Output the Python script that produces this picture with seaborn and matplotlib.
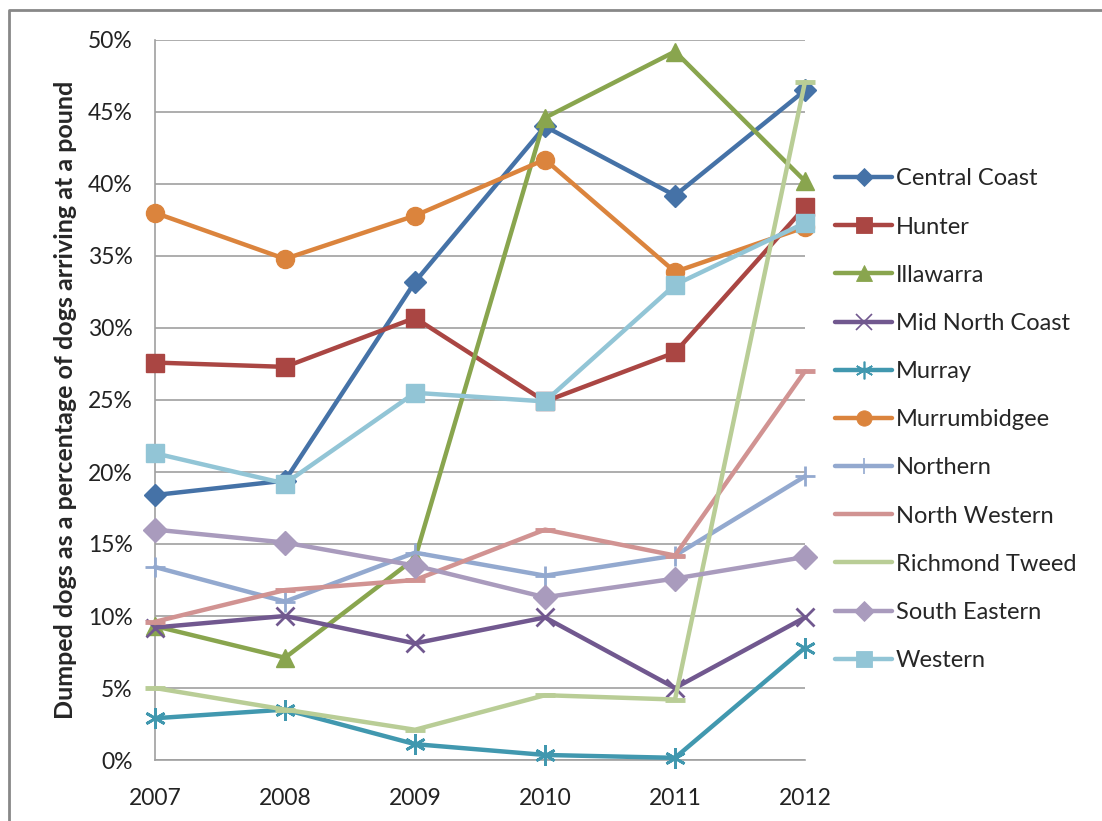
import matplotlib
matplotlib.use("Agg")
import matplotlib.pyplot as plt
import matplotlib.ticker as mticker
from matplotlib.lines import Line2D
import pandas as pd
import seaborn as sns

# values (percent)
years = [2007, 2008, 2009, 2010, 2011, 2012]
regions = ["Central Coast", "Hunter", "Illawarra", "Mid North Coast", "Murray",
           "Murrumbidgee", "Northern", "North Western", "Richmond Tweed",
           "South Eastern", "Western"]
central_coast = [18.4, 19.4, 33.2, 44.0, 39.2, 46.5]
hunter = [27.6, 27.3, 30.7, 24.9, 28.3, 38.4]
illawarra = [9.3, 7.1, 14.0, 44.6, 49.2, 40.2]
mid_north_coast = [9.2, 10.0, 8.1, 9.9, 5.0, 9.9]
murray = [2.9, 3.5, 1.1, 0.35, 0.15, 7.8]
murrumbidgee = [38.0, 34.8, 37.8, 41.7, 33.9, 37.0]
northern = [13.4, 11.0, 14.4, 12.8, 14.2, 19.7]
north_western = [9.6, 11.8, 12.5, 16.0, 14.2, 27.0]
richmond_tweed = [5.0, 3.5, 2.1, 4.5, 4.2, 47.1]
south_eastern = [16.0, 15.1, 13.5, 11.3, 12.6, 14.1]
western = [21.3, 19.2, 25.5, 24.9, 33.0, 37.3]

series = [central_coast, hunter, illawarra, mid_north_coast, murray, murrumbidgee,
          northern, north_western, richmond_tweed, south_eastern, western]

colors = ["#4572A7", "#AA4643", "#89A54E", "#71588F", "#4198AF", "#DB843D",
          "#93A9CF", "#D19392", "#B9CD96", "#A99BBD", "#92C5D6"]
# marker, size, edge width
markers = [("D", 11, 1), ("s", 13, 1), ("^", 13, 1), ("x", 13, 2), ((6, 2, 0), 15, 2),
           ("o", 13, 1), ("+", 14, 2), ("_", 14, 3.5), ("_", 14, 3.5), ("D", 12, 1),
           ("s", 13, 1)]

rows = []
for name, vals in zip(regions, series):
    for yr, v in zip(years, vals):
        rows.append({"Year": yr, "Region": name, "Pct": v / 100})
df = pd.DataFrame(rows)

sns.set_style("white")
plt.rcParams["font.family"] = ["Lato", "DejaVu Sans"]

fig = plt.figure(figsize=(11.02, 8.21), dpi=100)
ax = fig.add_axes([155 / 1102, 1 - 760 / 821, 650 / 1102, 720 / 821])

handles = []
for name, col, (mk, ms, mew) in zip(regions, colors, markers):
    sub = df[df.Region == name]
    sns.lineplot(data=sub, x="Year", y="Pct", ax=ax, color=col, linewidth=3.2,
                 marker=mk, markersize=ms, markeredgewidth=mew, markeredgecolor=col,
                 markerfacecolor=col, clip_on=False, legend=False, zorder=3)
    handles.append(Line2D([], [], color=col, linewidth=3.2, marker=mk,
                          markersize=ms * 0.85, markeredgewidth=mew * 0.6,
                          markeredgecolor=col, markerfacecolor=col))

ax.set_xlim(2007, 2012)
ax.set_ylim(0, 0.5)
ax.set_xticks(years)
ax.set_xticklabels([str(y) for y in years])
ax.yaxis.set_major_locator(mticker.MultipleLocator(0.05))
ax.yaxis.set_major_formatter(mticker.PercentFormatter(1.0, decimals=0))
ax.grid(axis="y", color="#A0A0A0", linewidth=1.2)
ax.grid(axis="x", visible=False)
ax.set_axisbelow(True)
for s in ["top", "right"]:
    ax.spines[s].set_visible(False)
for s in ["left", "bottom"]:
    ax.spines[s].set_color("#A0A0A0")
    ax.spines[s].set_linewidth(1.2)
ax.tick_params(axis="both", direction="out", length=7, width=1.2, color="#A0A0A0",
               labelsize=16.5, labelcolor="#222222", pad=9)
ax.tick_params(axis="x", pad=13)
ax.set_xlabel("")
ax.set_ylabel("Dumped dogs as a percentage of dogs arriving at a pound",
              fontsize=18, fontweight="bold", labelpad=8)

fig.legend(handles, regions, loc="upper left", bbox_to_anchor=(826 / 1102, 1 - 159 / 821),
           frameon=False, fontsize=17, labelspacing=1.15, handlelength=2.4,
           handletextpad=0.15, borderaxespad=0)

# chart frame (top and left edges)
fig.add_artist(Line2D([9 / 1102, 9 / 1102, 1.0], [0.0, 1 - 10 / 821, 1 - 10 / 821],
                      transform=fig.transFigure, color="#888888", linewidth=2))

fig.savefig("out.png", dpi=100)
